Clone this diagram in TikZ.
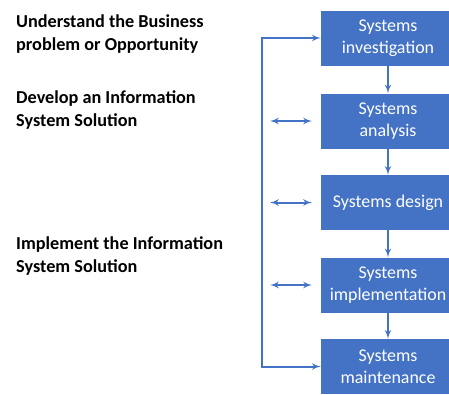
\documentclass[tikz,border=0pt]{standalone}
\usepackage{fontspec}
\setmainfont{Carlito}
\usepackage{xcolor}
\usetikzlibrary{positioning,arrows}
\definecolor{phaseblue}{HTML}{4472C4}

\begin{document}
\begin{tikzpicture}
                [
                x=1bp, y=-1bp,
                phase/.style={rectangle,fill=phaseblue,text=white,minimum width=134bp,minimum height=55bp,
                  align=center,font=\fontsize{18}{22}\selectfont,inner sep=0pt},
                stage/.style={anchor=west,align=left,font=\bfseries\fontsize{18.3}{23}\selectfont,inner sep=0pt},
                edge/.style={->,> = latex',phaseblue,line width=2bp},
                both/.style={<->,> = latex',phaseblue,line width=2bp}
                ]
            \useasboundingbox (0,0) rectangle (449,394);
            % phases of the life cycle
            \node[phase] (inv) at (388,38) {Systems\\investigation};
            \node[phase] (ana) at (388,121) {Systems\\analysis};
            \node[phase] (des) at (388,202.5) {Systems design};
            \node[phase] (imp) at (388,285) {Systems\\implementation};
            \node[phase] (mai) at (388,366.5) {Systems\\maintenance};
            % stages on the left
            \node[stage] (und) at (16,34) {Understand the Business\\problem or Opportunity};
            \node[stage] (dev) at (16,110) {Develop an Information\\System Solution};
            \node[stage] (ipl) at (16,256) {Implement the Information\\System Solution};
            % flow
            \draw[edge] (inv) -- (ana);
            \draw[edge] (ana) -- (des);
            \draw[edge] (des) -- (imp);
            \draw[edge] (imp) -- (mai);
            % feedback loop
            \draw[both] (inv.west) -| (262,200) |- (mai.west);
            % side arrows
            \coordinate (a1) at (270,121);
            \coordinate (a2) at (270,202.5);
            \coordinate (a3) at (270,285);
            \draw[both] (a1) -- ++(42,0);
            \draw[both] (a2) -- ++(42,0);
            \draw[both] (a3) -- ++(42,0);
            \end{tikzpicture}
\end{document}
